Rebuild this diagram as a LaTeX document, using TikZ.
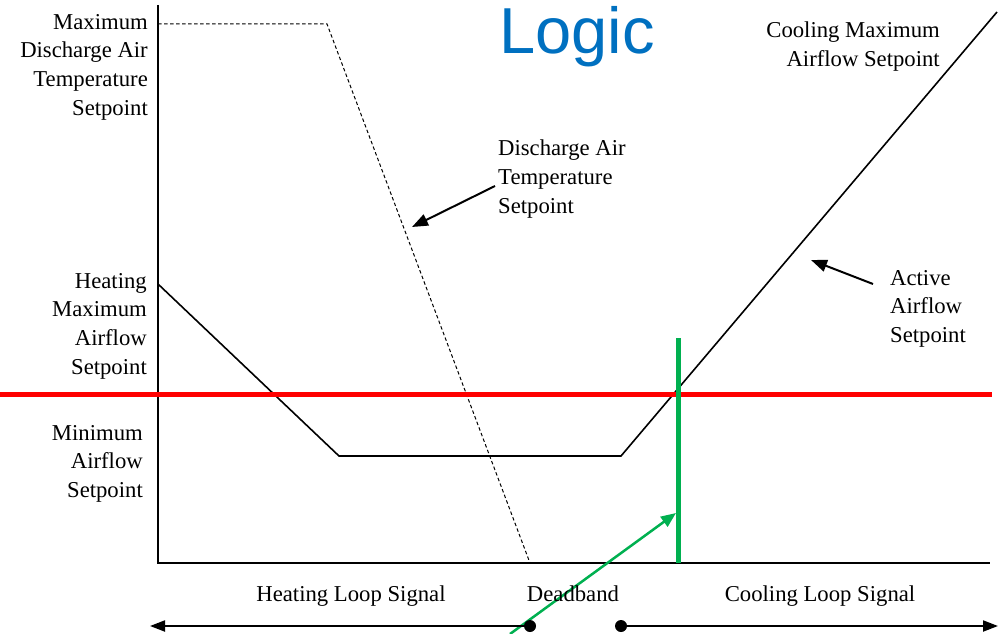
\documentclass[tikz,border=0pt]{standalone}
\usepackage{fontspec}
\setmainfont{Liberation Serif}
\newfontfamily\logicfont{Liberation Sans}
\usetikzlibrary{arrows.meta}
\definecolor{logicblue}{RGB}{0,112,192}
\definecolor{markgreen}{RGB}{0,176,80}
\definecolor{markred}{RGB}{255,0,0}
\tikzset{
  lbl/.style={inner sep=0pt, font=\fontsize{22.7}{28.7}\selectfont},
  axisline/.style={line width=2pt, black},
  curve/.style={line width=1.6pt, black, line join=miter},
  dashcurve/.style={line width=1pt, black, dash pattern=on 3.5pt off 2.5pt},
  callout/.style={line width=2pt, black, -{Triangle[length=16pt,width=12pt]}},
  rangearrow/.style={line width=2pt, black, -{Triangle[length=15pt,width=11pt]}},
  dotmark/.style={circle, fill=black, inner sep=0pt, minimum size=12pt},
}
\begin{document}
\begin{tikzpicture}[x=1pt,y=-1pt]
\useasboundingbox (0,0) rectangle (999,634);

% title
\node[inner sep=0pt, anchor=base, font=\logicfont\fontsize{65}{70}\selectfont, text=logicblue] (title) at (577,54) {Logic};

% axes
\coordinate (otop) at (158,5);
\coordinate (origin) at (158,563);
\coordinate (xend) at (990,563);
\draw[axisline] (otop) -- (origin) -- (xend);

% discharge air temperature setpoint (dashed)
\coordinate (d0) at (158,24);
\coordinate (d1) at (327,24);
\coordinate (d2) at (530,563);
\draw[dashcurve] (d0) -- (d1) -- (d2);

% active airflow setpoint
\coordinate (a0) at (158,284);
\coordinate (a1) at (339,456);
\coordinate (a2) at (621,456);
\coordinate (a3) at (997,12);
\draw[curve] (a0) -- (a1) -- (a2) -- (a3);

% red and green markers
\coordinate (r0) at (0,394);
\coordinate (r1) at (992,394);
\draw[markred, line width=5pt] (r0) -- (r1);
\coordinate (g0) at (678,338);
\coordinate (g1) at (678,563);
\draw[markgreen, line width=5pt] (g0) -- (g1);
\coordinate (ga) at (510,634);
\coordinate (gb) at (676,513);
\draw[markgreen, line width=2.5pt, -{Triangle[length=15pt,width=12pt]}] (ga) -- (gb);

% left labels
\node[lbl, align=right, anchor=north east] (maxdat) at (148,14) {Maximum\\Discharge Air\\Temperature\\Setpoint};
\node[lbl, align=right, anchor=north east] (heatmax) at (147,273) {Heating\\Maximum\\Airflow\\Setpoint};
\node[lbl, align=right, anchor=north east] (minair) at (143,425) {Minimum\\Airflow\\Setpoint};

% callouts
\node[lbl, align=left, anchor=north west] (datlbl) at (498,140) {Discharge Air\\Temperature\\Setpoint};
\coordinate (datfrom) at (495,186);
\coordinate (datto) at (412,227);
\draw[callout] (datfrom) -- (datto);

\node[lbl, align=right, anchor=north east] (coolmax) at (940,22) {Cooling Maximum\\Airflow Setpoint};

\node[lbl, align=left, anchor=north west] (actlbl) at (890,270) {Active\\Airflow\\Setpoint};
\coordinate (actfrom) at (873,284);
\coordinate (actto) at (811,260);
\draw[callout] (actfrom) -- (actto);

% bottom labels
\node[lbl, anchor=base] (heatsig) at (351,601.5) {Heating Loop Signal};
\node[lbl, anchor=base] (deadband) at (573,601.5) {Deadband};
\node[lbl, anchor=base] (coolsig) at (820,601.5) {Cooling Loop Signal};

% range arrows
\node[dotmark] (dl) at (530,626) {};
\coordinate (al) at (150,626);
\draw[rangearrow] (dl.center) -- (al);
\node[dotmark] (dr) at (621,626) {};
\coordinate (ar) at (998,626);
\draw[rangearrow] (dr.center) -- (ar);
\end{tikzpicture}
\end{document}
